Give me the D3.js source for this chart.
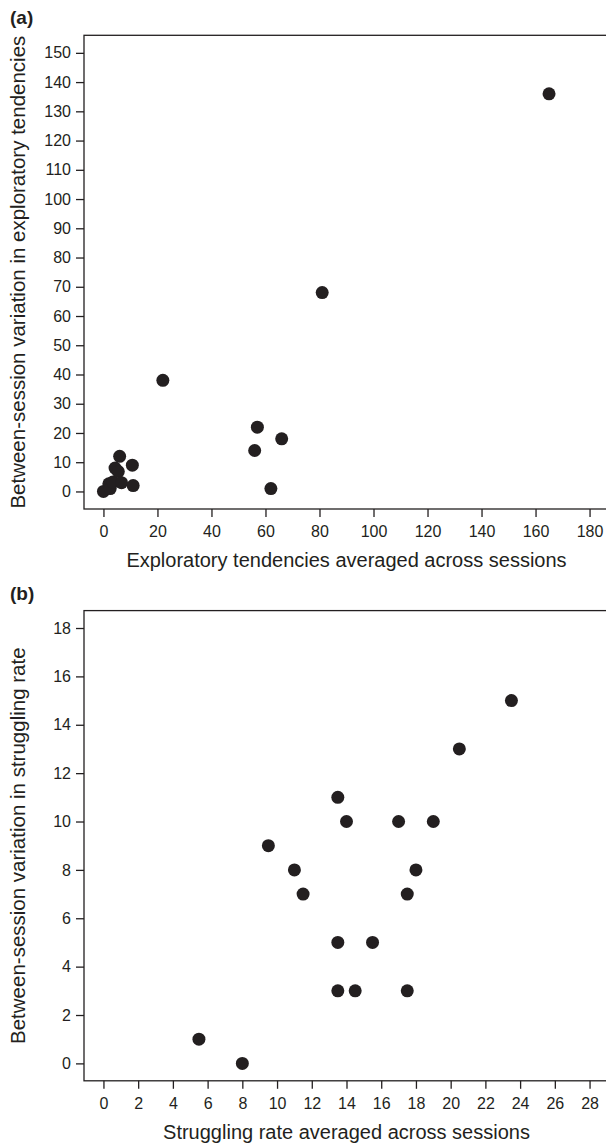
<!DOCTYPE html>
<meta charset="utf-8">
<title>exploration and struggling</title>

<style>
body {
  margin: 0px;
  background: #fff;
}
svg text {
  font-family: "Liberation Sans", Arial, sans-serif;
  fill: #231f20;
}
.axis text {
  font-size: 16px;
}
.axis line {
  stroke: #231f20;
  stroke-width: 1.3;
}
.axis path.domain {
  display: none;
}
rect.frame {
  fill: none;
  stroke: #231f20;
  stroke-width: 1.3;
}
circle.dot {
  fill: #231f20;
}
</style>

<script src="https://d3js.org/d3.v7.min.js"></script>

<body>
<script>

// Panel (a): exploratory tendencies
var exploreMean = [0, 2, 2.5, 3.5, 4.3, 5.5, 6, 6.7, 10.7, 11, 22, 56, 57, 62, 66, 81, 165];
var exploreVar  = [0, 2.6, 1, 3.2, 8, 6.8, 12, 3, 9, 2, 38, 14, 22, 1, 18, 68, 136];
var exploreXTicks = d3.range(0, 181, 20);
var exploreYTicks = d3.range(0, 151, 10);

// Panel (b): struggling rate
var struggleMean = [5.5, 8, 9.5, 11, 11.5, 13.5, 14, 13.5, 15.5, 13.5, 14.5, 17.5, 17, 19, 17.5, 18, 20.5, 23.5];
var struggleVar  = [1, 0, 9, 8, 7, 11, 10, 5, 5, 3, 3, 3, 10, 10, 7, 8, 13, 15];
var struggleXTicks = d3.range(0, 29, 2);
var struggleYTicks = d3.range(0, 19, 2);

var width = 606, height = 1145;

var svg = d3.select("body").append("svg")
    .attr("width", width)
    .attr("height", height);

// R style: limits padded by 4% on each side
function padded(ticks) {
  var lo = d3.min(ticks), hi = d3.max(ticks), p = (hi - lo) * 0.04;
  return [lo - p, hi + p];
}

function drawPanel(opts) {
  var x = d3.scaleLinear().domain(padded(opts.xTicks)).range([84, 609]);
  var y = d3.scaleLinear().domain(padded(opts.yTicks)).range([opts.bottom, opts.top]);
  var g = svg.append("g");

  g.append("rect")
    .attr("class", "frame")
    .attr("x", x.range()[0])
    .attr("y", opts.top)
    .attr("width", x.range()[1] - x.range()[0])
    .attr("height", opts.bottom - opts.top);

  g.append("g")
    .attr("class", "axis")
    .attr("transform", "translate(0," + opts.bottom + ")")
    .call(d3.axisBottom(x).tickValues(opts.xTicks).tickSize(8).tickPadding(9).tickFormat(d3.format("d")));

  g.append("g")
    .attr("class", "axis")
    .attr("transform", "translate(84,0)")
    .call(d3.axisLeft(y).tickValues(opts.yTicks).tickSize(8).tickPadding(5).tickFormat(d3.format("d")));

  g.selectAll("circle.dot")
      .data(opts.xs)
    .enter().append("circle")
      .attr("class", "dot")
      .attr("cx", function(d) { return x(d); })
      .attr("cy", function(d, i) { return y(opts.ys[i]); })
      .attr("r", 6.5);

  // panel letter
  g.append("text")
    .attr("x", 10)
    .attr("y", opts.top - 11)
    .style("font-size", "19px")
    .style("font-weight", "bold")
    .text(opts.letter);

  // x title
  g.append("text")
    .attr("x", (84 + 609) / 2)
    .attr("y", opts.bottom + 58)
    .attr("text-anchor", "middle")
    .style("font-size", "20px")
    .text(opts.xTitle);

  // y title
  g.append("text")
    .attr("transform", "translate(25," + ((opts.top + opts.bottom) / 2) + ") rotate(-90)")
    .attr("text-anchor", "middle")
    .style("font-size", "20.5px")
    .text(opts.yTitle);
}

drawPanel({
  letter: "(a)",
  top: 35.3, bottom: 509,
  xTicks: exploreXTicks, yTicks: exploreYTicks,
  xs: exploreMean, ys: exploreVar,
  xTitle: "Exploratory tendencies averaged across sessions",
  yTitle: "Between-session variation in exploratory tendencies"
});

drawPanel({
  letter: "(b)",
  top: 610.6, bottom: 1080.8,
  xTicks: struggleXTicks, yTicks: struggleYTicks,
  xs: struggleMean, ys: struggleVar,
  xTitle: "Struggling rate averaged across sessions",
  yTitle: "Between-session variation in struggling rate"
});

</script>
